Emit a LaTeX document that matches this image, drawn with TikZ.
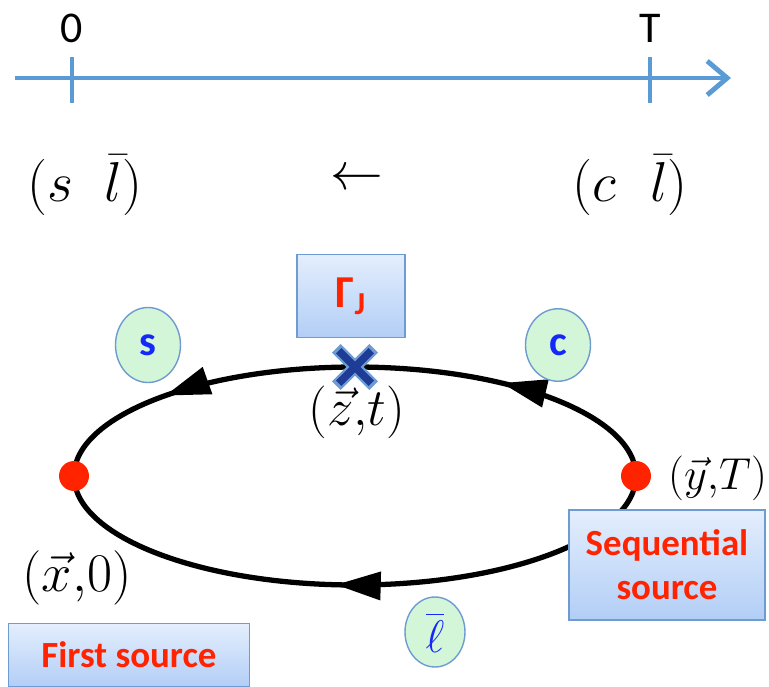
\RequirePackage{fix-cm}
\documentclass[tikz,border=0pt]{standalone}
\usepackage{amsmath}
\usepackage{fontspec}
\setsansfont{Carlito}
\usetikzlibrary{arrows.meta,shapes.geometric,shapes.misc,decorations.markings}
\definecolor{axisblue}{RGB}{91,155,213}
\definecolor{boxedge}{RGB}{110,155,210}
\definecolor{boxtop}{RGB}{228,238,253}
\definecolor{boxbottom}{RGB}{178,206,246}
\definecolor{srcred}{RGB}{255,35,0}
\definecolor{letterblue}{RGB}{20,40,250}
\definecolor{bubblegreen}{RGB}{212,246,216}
\definecolor{crossblue}{RGB}{30,60,150}
\tikzset{timeaxis/.style={axisblue,line width=2.8pt},
 loop/.style={line width=3pt,postaction={decorate}},
 bigmath/.style={font=\fontsize{32}{36}\selectfont},
 ptlabel/.style={font=\fontsize{31}{35}\selectfont},
 dot/.style={circle,fill=srcred,inner sep=0pt,minimum size=0.6cm},
 bubble/.style={ellipse,draw=boxedge,thick,fill=bubblegreen,inner sep=0pt,
  text=letterblue,font=\sffamily\bfseries\fontsize{24}{28}\selectfont}}

\begin{document}
\begin{tikzpicture}[x=0.02cm,y=-0.02cm,
 box/.style={draw=boxedge,thick,top color=boxtop,bottom color=boxbottom,align=center,
  text=srcred,font=\sffamily\bfseries\fontsize{21}{25}\selectfont}]
\useasboundingbox (0,0) rectangle (769,687);
\coordinate (tstart) at (15,78);
\coordinate (tend) at (731,78);
\draw[timeaxis,-{Straight Barb[length=0.4cm,width=0.68cm]}] (tstart)--(tend);
\draw[timeaxis] (72,57)--(72,103);
\draw[timeaxis] (650,57)--(650,103);
\node[font=\sffamily\fontsize{25}{28}\selectfont] (zero) at (72,28) {0};
\node[font=\sffamily\fontsize{25}{28}\selectfont] (tee) at (650,28) {T};
\node[bigmath] (sl) at (85,185) {$(s\;\;\bar{l})$};
\node[font=\fontsize{30}{34}\selectfont] (back) at (357,180) {$\leftarrow$};
\node[bigmath] (cl) at (630,185) {$(c\ \ \bar{l})$};
\coordinate (xpt) at (74,476);
\coordinate (ypt) at (636,476);
\draw[loop,decoration={markings,
  mark=at position 0.27 with {\arrow{Triangle[length=0.9cm,width=0.55cm]}},
  mark=at position 0.80 with {\arrow{Triangle[length=0.9cm,width=0.55cm]}}}]
 (ypt) arc[start angle=0,end angle=-180,x radius=281,y radius=109];
\draw[loop,decoration={markings,
  mark=at position 0.53 with {\arrow{Triangle[length=0.9cm,width=0.55cm]}}}]
 (ypt) arc[start angle=0,end angle=180,x radius=281,y radius=109];
\node[dot] (xdot) at (xpt) {};
\node[dot] (ydot) at (ypt) {};
\node[cross out,draw=boxedge,line width=7pt,minimum size=0.5cm] at (355,367) {};
\node[cross out,draw=crossblue,line width=4.4pt,minimum size=0.5cm] (zmark) at (355,367) {};
\node[ptlabel,font=\fontsize{30}{34}\selectfont] (zlab) at (357,412) {$(\vec{z}{,}t)$};
\node[ptlabel,font=\fontsize{25.5}{30}\selectfont,anchor=west] (ylab) at (662,478) {$(\vec{y}{,}T)$};
\node[ptlabel] (xlab) at (77,578) {$(\vec{x}{,}0)$};
\node[box,minimum width=2.16cm,minimum height=1.66cm,font=\sffamily\bfseries\fontsize{26}{30}\selectfont] (gam) at (351,296) {Γ\textsubscript{J}};
\node[box,minimum width=3.92cm,minimum height=2.2cm] (seq) at (667,565) {Sequential\\source};
\node[box,minimum width=4.82cm,minimum height=1.26cm] (first) at (129,655) {First source};
\node[bubble,minimum width=1.3cm,minimum height=1.5cm] (sbub) at (148,345) {s};
\node[bubble,minimum width=1.3cm,minimum height=1.45cm] (cbub) at (558,345) {c};
\node[bubble,minimum width=1.2cm,minimum height=1.4cm,font=\fontsize{26}{30}\selectfont] (lbub) at (435,632) {$\overline{\ell}$};
\end{tikzpicture}
\end{document}
